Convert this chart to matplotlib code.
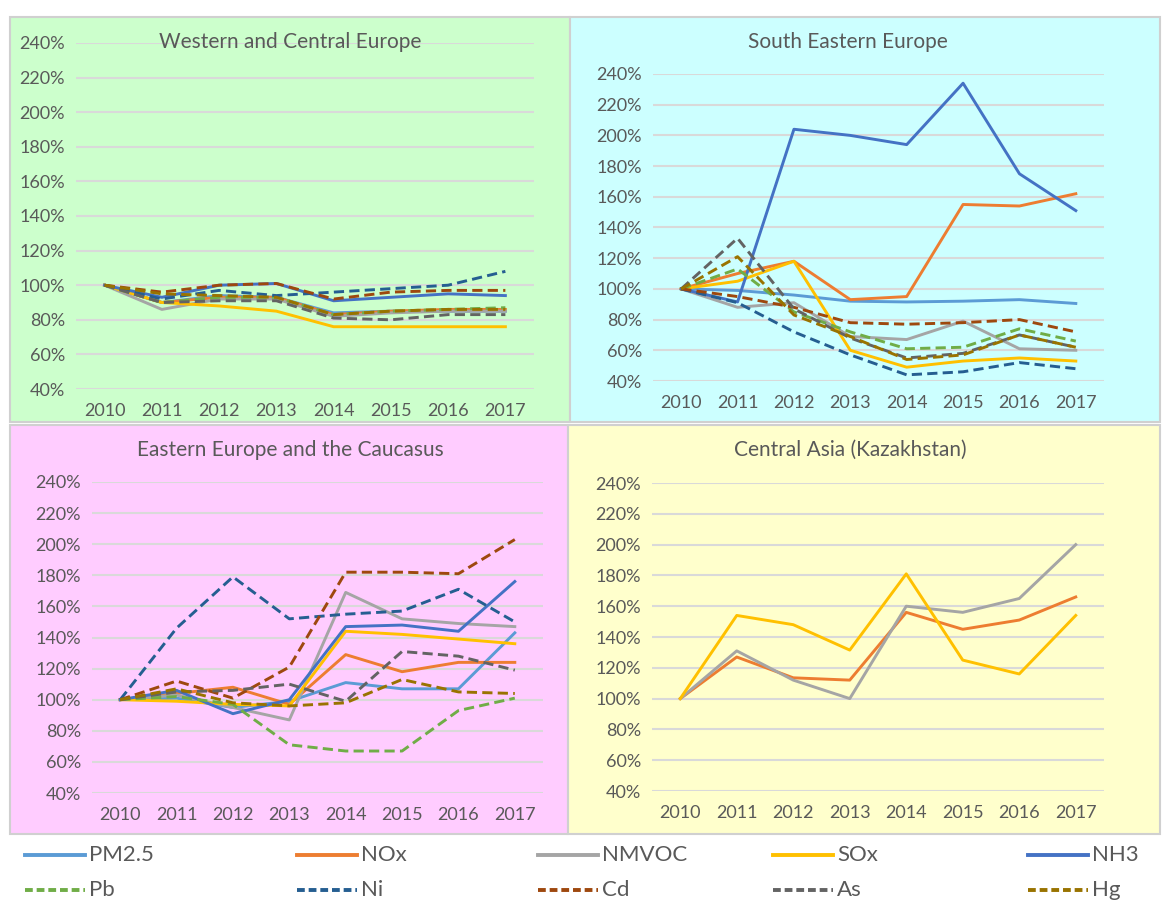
import matplotlib
matplotlib.use("Agg")
import matplotlib.pyplot as plt
import matplotlib.patches as patches
from matplotlib import font_manager
from matplotlib.lines import Line2D
from matplotlib.ticker import FuncFormatter

plt.rcParams['font.family'] = ['Lato', 'DejaVu Sans']

years = ['2010', '2011', '2012', '2013', '2014', '2015', '2016', '2017']
pollutants = ['PM2.5', 'NOx', 'NMVOC', 'SOx', 'NH3', 'Pb', 'Ni', 'Cd', 'As', 'Hg']

# values in % of 2010, one list per pollutant (None = no data)
wce_pm25 = [100, 90, 94, 93, 84, 85, 85, 85]
wce_nox = [100, 90, 93, 93, 83, 85, 86, 86]
wce_nmvoc = [100, 86, 92, 92, 82, 84, 85, 85]
wce_sox = [100, 90, 88, 85, 76, 76, 76, 76]
wce_nh3 = [100, 93, 100, 101, 91, 93, 95, 94]
wce_pb = [100, 90, 93, 93, 83, 85, 86, 87]
wce_ni = [100, 92, 97, 94, 96, 98, 100, 108]
wce_cd = [100, 96, 100, 101, 92, 96, 97, 97]
wce_as = [100, 90, 91, 91, 81, 80, 83, 83]
wce_hg = [100, 95, 94, 93, 83, 85, 86, 86]

see_pm25 = [100, 99, 96, 92, 91.5, 92, 93, 90.5]
see_nox = [100, 110, 118, 93, 95, 155, 154, 162]
see_nmvoc = [100, 88, 91, 69, 67, 79, 61, 60]
see_sox = [100, 105, 118, 60, 49, 53, 55, 53]
see_nh3 = [100, 91.5, 204, 200, 194, 234, 175, 151]
see_pb = [100, 113, 85, 72, 61, 62, 74, 66]
see_ni = [100, 91, 72, 57, 44, 46, 52, 48]
see_cd = [100, 95, 88, 78, 77, 78, 80, 72]
see_as = [100, 133, 87, 68, 55, 58, 70, 62]
see_hg = [100, 121, 83, 69, 54, 57, 70, 62]

eec_pm25 = [100, 101, 95, 99, 111, 107, 107, 143]
eec_nox = [100, 104, 108, 97, 129, 118, 124, 124]
eec_nmvoc = [100, 103, 95, 87, 169, 152, 149, 147]
eec_sox = [100, 99, 97, 96, 144, 142, 139, 136]
eec_nh3 = [100, 106, 91, 100, 147, 148, 144, 176]
eec_pb = [100, 102, 97, 71, 67, 67, 93, 101]
eec_ni = [100, 146, 179, 152, 155, 157, 171, 150]
eec_cd = [100, 112, 101, 121, 182, 182, 181, 203]
eec_as = [100, 105, 106, 110, 99, 131, 128, 119]
eec_hg = [100, 107, 98, 96, 98, 113, 105, 104]

kaz_nox = [100, 127, 113.5, 112, 156, 145, 151, 166]
kaz_nmvoc = [100, 131, 112, 100, 160, 156, 165, 200]
kaz_sox = [100, 154, 148, 131.5, 181, 125, 116, 154]

regions = [
    ('Western and Central Europe',
     [wce_pm25, wce_nox, wce_nmvoc, wce_sox, wce_nh3, wce_pb, wce_ni, wce_cd, wce_as, wce_hg]),
    ('South Eastern Europe',
     [see_pm25, see_nox, see_nmvoc, see_sox, see_nh3, see_pb, see_ni, see_cd, see_as, see_hg]),
    ('Eastern Europe and the Caucasus',
     [eec_pm25, eec_nox, eec_nmvoc, eec_sox, eec_nh3, eec_pb, eec_ni, eec_cd, eec_as, eec_hg]),
    ('Central Asia (Kazakhstan)',
     [None, kaz_nox, kaz_nmvoc, kaz_sox, None, None, None, None, None, None]),
]

colors = ['#5B9BD5', '#ED7D31', '#A5A5A5', '#FFC000', '#4472C4',
          '#70AD47', '#255E91', '#9E480E', '#636363', '#997300']
dashed = [False] * 5 + [True] * 5

W, H = 1162, 907
# panel backgrounds (pixels: x0, y0, x1, y1) and axes boxes (left, top, right, bottom)
bg_boxes = [(10, 17, 570, 422), (570, 17, 1160, 422),
            (10, 425, 568, 834), (568, 425, 1160, 834)]
bg_colors = ['#CCFFCC', '#CCFFFF', '#FFCCFF', '#FFFFCC']
ax_boxes = [(76, 43, 534, 389), (653, 74, 1104, 381),
            (92, 482, 543, 793), (652, 483, 1104, 791)]
title_pos = [(290, 42), (848, 42), (290, 450), (850, 450)]

fig = plt.figure(figsize=(W / 100, H / 100), dpi=100)
fig.patch.set_facecolor('white')

for (x0, y0, x1, y1), c in zip(bg_boxes, bg_colors):
    fig.patches.append(patches.Rectangle((x0 / W, 1 - y1 / H), (x1 - x0) / W, (y1 - y0) / H,
                                         transform=fig.transFigure, facecolor=c,
                                         edgecolor='#D0D0D0', lw=1.5, zorder=-5))

text_col = '#595959'
pct = FuncFormatter(lambda v, p: f'{v:.0f}%')

for i, (title, series) in enumerate(regions):
    l, t, r, b = ax_boxes[i]
    ax = fig.add_axes([l / W, 1 - b / H, (r - l) / W, (b - t) / H])
    ax.patch.set_alpha(0)
    for y in range(40, 241, 20):
        ax.axhline(y, color='#D9D9D9', lw=1.5, zorder=1)
    for k, vals in enumerate(series):
        if vals is None:
            continue
        ls = (0, (3.5, 1.8)) if dashed[k] else '-'
        ax.plot(range(len(years)), vals, color=colors[k], lw=2.1, ls=ls,
                solid_joinstyle='round', zorder=2 + k, clip_on=False)
    ax.set_xlim(-0.5, len(years) - 0.5)
    ax.set_ylim(40, 240)
    ax.set_xticks(range(len(years)))
    ax.set_xticklabels(years)
    ax.set_yticks(range(40, 241, 20))
    ax.yaxis.set_major_formatter(pct)
    ax.tick_params(length=0, labelsize=13, labelcolor=text_col, pad=8)
    ax.tick_params(axis='x', pad=10)
    for s in ax.spines.values():
        s.set_visible(False)
    tx, ty = title_pos[i]
    fig.text(tx / W, 1 - ty / H, title, ha='center', va='center',
             fontsize=15, color=text_col)

# the legend text in the picture is narrow, use a condensed face if there is one
installed = {f.name for f in font_manager.fontManager.ttflist}
leg_font = 'Liberation Sans Narrow' if 'Liberation Sans Narrow' in installed else 'Lato'

# legend keys placed by hand, two rows of five
col_x = [25, 297, 538, 773, 1028]
row_y = [855, 890]
for k, name in enumerate(pollutants):
    x = col_x[k % 5]
    y = 1 - row_y[k // 5] / H
    ls = (0, (2.0, 1.0)) if dashed[k] else '-'
    fig.add_artist(Line2D([x / W, (x + 60) / W], [y, y], color=colors[k], lw=2.8,
                          ls=ls, transform=fig.transFigure))
    fig.text((x + 64) / W, y, name, ha='left', va='center', fontsize=16,
             color=text_col, family=[leg_font, 'DejaVu Sans'])

fig.savefig('out.png', dpi=100, facecolor='white')
